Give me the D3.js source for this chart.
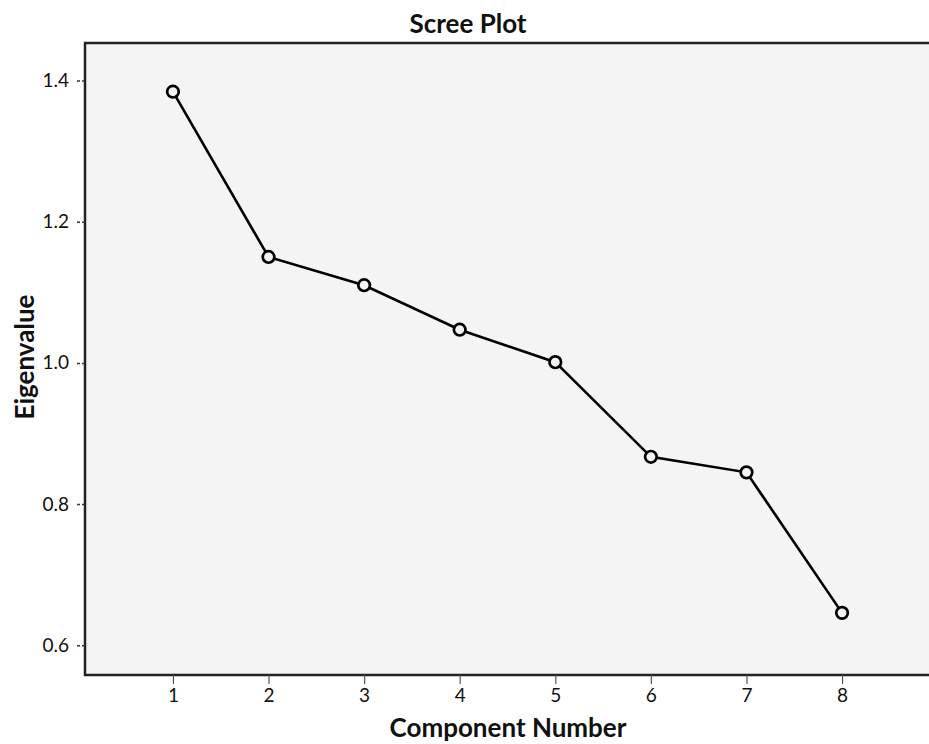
<!DOCTYPE html>
<html>
<head>
<meta charset="utf-8">
<script src="https://cdn.jsdelivr.net/npm/d3@7"></script>
<style>
  body { margin: 0; background: #fff; overflow: hidden; }
  text { font-family: Lato, "Open Sans", sans-serif; fill: #111; }
</style>
</head>
<body>
<div id="chart"></div>
<script>
// component numbers and eigenvalues
const components = [1, 2, 3, 4, 5, 6, 7, 8];
const eigenvalues = [1.384, 1.150, 1.110, 1.047, 1.001, 0.867, 0.845, 0.646];
const yTicks = [0.6, 0.8, 1.0, 1.2, 1.4];

const width = 929, height = 744;
const margin = { top: 43, bottom: 69, left: 85 };
const plotWidth = 845;   // the frame runs past the right edge of the picture
const innerHeight = height - margin.top - margin.bottom;

const svg = d3.select('#chart').append('svg')
  .attr('width', width)
  .attr('height', height);

const xScale = d3.scaleLinear()
  .domain([0.08, 8.92])
  .range([0, plotWidth]);

const yScale = d3.scaleLinear()
  .domain([0.558, 1.453])
  .range([innerHeight, 0]);

const g = svg.append('g')
  .attr('transform', `translate(${margin.left},${margin.top})`);

// plot background + frame (right side is cut off)
g.append('rect')
  .attr('width', plotWidth + 20)
  .attr('height', innerHeight)
  .attr('fill', '#f4f4f4')
  .attr('stroke', '#222')
  .attr('stroke-width', 2.5);

// y axis: dashed little ticks outside the frame
const yAxisG = g.append('g')
  .call(d3.axisLeft(yScale).tickValues(yTicks).tickFormat(d3.format('.1f')).tickSize(10).tickPadding(6));
yAxisG.select('.domain').remove();
yAxisG.selectAll('.tick line')
  .attr('stroke', '#333')
  .attr('stroke-width', 1.5)
  .attr('stroke-dasharray', '3,2');
yAxisG.selectAll('.tick text')
  .style('font-size', '19px')
  .attr('fill', '#111');

// x axis
const xAxisG = g.append('g')
  .attr('transform', `translate(0,${innerHeight})`)
  .call(d3.axisBottom(xScale).tickValues(components).tickFormat(d3.format('d')).tickSize(9).tickPadding(5));
xAxisG.select('.domain').remove();
xAxisG.selectAll('.tick line')
  .attr('stroke', '#555')
  .attr('stroke-width', 1.2);
xAxisG.selectAll('.tick text')
  .style('font-size', '19px')
  .attr('fill', '#111');

// line
const data = components.map((c, i) => ({ c, v: eigenvalues[i] }));
const line = d3.line()
  .x(d => xScale(d.c))
  .y(d => yScale(d.v));

g.append('path')
  .datum(data)
  .attr('d', line)
  .attr('fill', 'none')
  .attr('stroke', '#000')
  .attr('stroke-width', 2.6);

g.selectAll('circle').data(data)
  .enter().append('circle')
  .attr('cx', d => xScale(d.c))
  .attr('cy', d => yScale(d.v))
  .attr('r', 5.8)
  .attr('fill', '#f4f4f4')
  .attr('stroke', '#000')
  .attr('stroke-width', 2.7);

// titles
svg.append('text')
  .attr('x', 468)
  .attr('y', 33)
  .attr('text-anchor', 'middle')
  .style('font-size', '26px')
  .style('font-weight', 'bold')
  .text('Scree Plot');

svg.append('text')
  .attr('x', 508)
  .attr('y', 737)
  .attr('text-anchor', 'middle')
  .style('font-size', '26px')
  .style('font-weight', 'bold')
  .text('Component Number');

svg.append('text')
  .attr('transform', `translate(34,357) rotate(-90)`)
  .attr('text-anchor', 'middle')
  .style('font-size', '26px')
  .style('font-weight', 'bold')
  .text('Eigenvalue');
</script>
</body>
</html>
